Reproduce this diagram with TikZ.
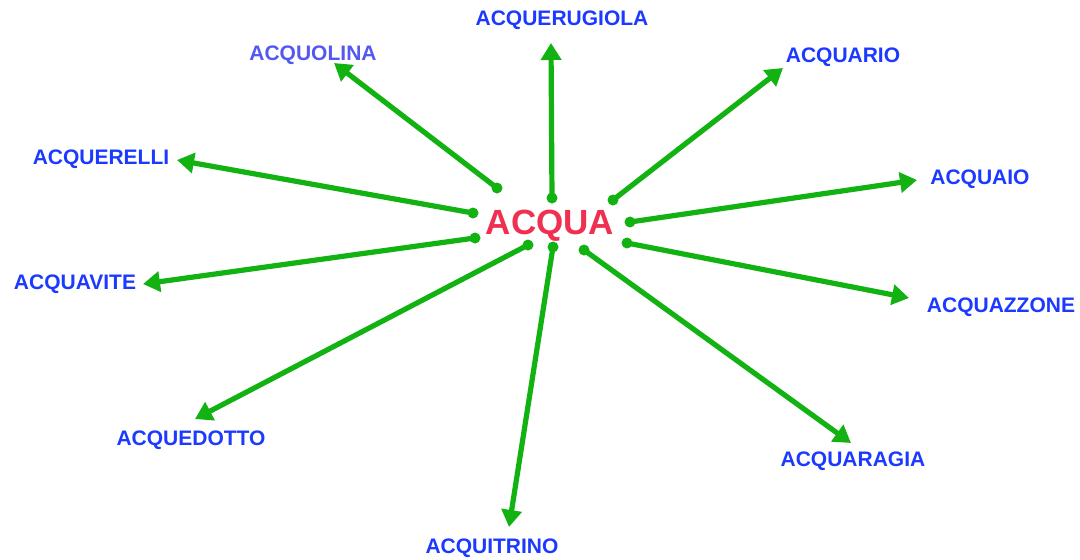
\documentclass[tikz,border=0pt]{standalone}
\usepackage{fontspec}
\setmainfont{Liberation Sans}
\usetikzlibrary{arrows.meta}
\definecolor{arrgreen}{RGB}{18,178,18}
\definecolor{lblblue}{RGB}{28,58,255}
\definecolor{lblblue2}{RGB}{82,88,240}
\definecolor{centerred}{RGB}{240,48,80}
\tikzset{
  lbl/.style={font=\fontsize{21}{24}\selectfont\bfseries, text=lblblue, inner sep=0pt, anchor=center},
  lightlbl/.style={lbl, text=lblblue2},
  centerlbl/.style={font=\fontsize{35}{40}\selectfont\bfseries, text=centerred, inner sep=0pt},
  conn/.style={draw=arrgreen, line width=5.2pt, -{Triangle[length=17pt,width=20pt]}},
  startdot/.style={fill=arrgreen}
}
\begin{document}
\begin{tikzpicture}[x=1pt,y=-1pt]
\useasboundingbox (0,0) rectangle (1080,560);
\node[centerlbl] (acqua) at (550,226) {ACQUA};
% labels
\node[lbl] (l1) at (562,20) {ACQUERUGIOLA};
\node[lightlbl] (l2) at (313,55) {ACQUOLINA};
\node[lbl] (l3) at (843,57) {ACQUARIO};
\node[lbl] (l4) at (101,159) {ACQUERELLI};
\node[lbl] (l5) at (980,179) {ACQUAIO};
\node[lbl] (l6) at (75,284) {ACQUAVITE};
\node[lbl] (l7) at (1001,307) {ACQUAZZONE};
\node[lbl] (l8) at (191,440) {ACQUEDOTTO};
\node[lbl] (l9) at (853,461) {ACQUARAGIA};
\node[lbl] (l10) at (492,548) {ACQUITRINO};
% start points
\coordinate (s1) at (552,198);
\coordinate (s2) at (497,188);
\coordinate (s3) at (613,200);
\coordinate (s4) at (473,213);
\coordinate (s5) at (630,222);
\coordinate (s6) at (475,238);
\coordinate (s7) at (627,243);
\coordinate (s8) at (528,245);
\coordinate (s9) at (584,250);
\coordinate (s10) at (553,247);
% tips
\coordinate (t1) at (551,43);
\coordinate (t2) at (334,63);
\coordinate (t3) at (783,68);
\coordinate (t4) at (177,160);
\coordinate (t5) at (917,180);
\coordinate (t6) at (143,284);
\coordinate (t7) at (909,298);
\coordinate (t8) at (195,419);
\coordinate (t9) at (851,443);
\coordinate (t10) at (509,527);
\foreach \i in {1,...,10}{
  \draw[conn] (s\i) -- (t\i);
  \fill[startdot] (s\i) circle (5.5pt);
}
\end{tikzpicture}
\end{document}
